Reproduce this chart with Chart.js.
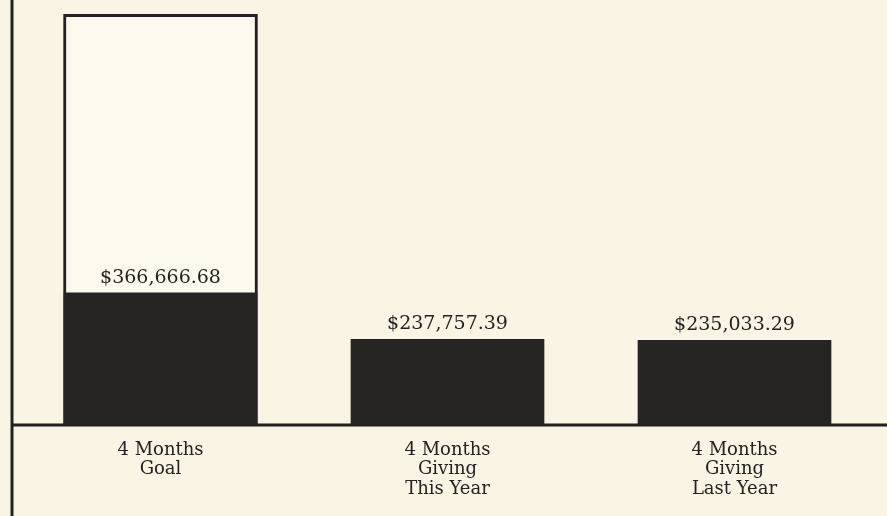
<!DOCTYPE html>
<html>
<head>
<meta charset="utf-8">
<script src="https://cdn.jsdelivr.net/npm/chart.js@4/dist/chart.umd.min.js"></script>
<style>
  html, body { margin: 0; padding: 0; background: #f9f4e4; }
  #wrap { width: 887px; height: 516px; position: relative; }
</style>
</head>
<body>
<div id="wrap"><canvas id="chart-giving"></canvas></div>
<script>
// ── data ──
const categories = [
  ['4 Months', 'Goal'],
  ['4 Months', 'Giving', 'This Year'],
  ['4 Months', 'Giving', 'Last Year']
];
const givingValues = [366666.68, 237757.39, 235033.29];
const valueLabels = ['$366,666.68', '$237,757.39', '$235,033.29'];
const outlineValues = [1140000, null, null];   // unlabelled outline box behind the goal bar

const INK = '#232220';
const SERIF = '"DejaVu Serif", "Liberation Serif", serif';

// frame: left rule down the page + baseline across
const framePlugin = {
  id: 'frame',
  afterDatasetsDraw(chart) {
    const { ctx } = chart;
    const y0 = chart.scales.y.getPixelForValue(0);
    ctx.save();
    ctx.strokeStyle = INK;
    ctx.lineWidth = 3;
    ctx.beginPath();
    ctx.moveTo(12, 0);
    ctx.lineTo(12, chart.height);
    ctx.moveTo(12, y0);
    ctx.lineTo(chart.width, y0);
    ctx.stroke();
    ctx.restore();
  }
};

// dollar amount just above each dark bar
const valueLabelPlugin = {
  id: 'valueLabels',
  afterDatasetsDraw(chart) {
    const { ctx } = chart;
    const meta = chart.getDatasetMeta(1);
    ctx.save();
    ctx.font = '19px ' + SERIF;
    ctx.fillStyle = INK;
    ctx.textAlign = 'center';
    ctx.textBaseline = 'alphabetic';
    meta.data.forEach((bar, i) => {
      ctx.fillText(valueLabels[i], bar.x, bar.y - 10);
    });
    ctx.restore();
  }
};

new Chart(document.getElementById('chart-giving'), {
  type: 'bar',
  data: {
    labels: categories,
    datasets: [{
      label: 'Outline',
      data: outlineValues,
      backgroundColor: '#fcf9ef',
      borderColor: INK,
      borderWidth: 3,
      barThickness: 194,
      grouped: false,
      order: 2,
    }, {
      label: 'Giving',
      data: givingValues,
      backgroundColor: '#262523',
      borderWidth: 0,
      barThickness: 193,
      grouped: false,
      order: 1,
    }]
  },
  options: {
    responsive: true, maintainAspectRatio: false,
    animation: false,
    layout: { padding: { left: 17, right: 9, top: 0, bottom: 0 } },
    plugins: { legend: { display: false }, tooltip: { enabled: false } },
    scales: {
      y: { display: false, min: 0, max: 1180000 },
      x: {
        grid: { display: false, drawTicks: false },
        border: { display: false },
        ticks: {
          font: { family: SERIF, size: 18, lineHeight: 1.1 },
          color: INK,
          padding: 15,
          maxRotation: 0,
        },
        afterFit: s => { s.height = 91; }
      }
    }
  },
  plugins: [framePlugin, valueLabelPlugin]
});
</script>
</body>
</html>
